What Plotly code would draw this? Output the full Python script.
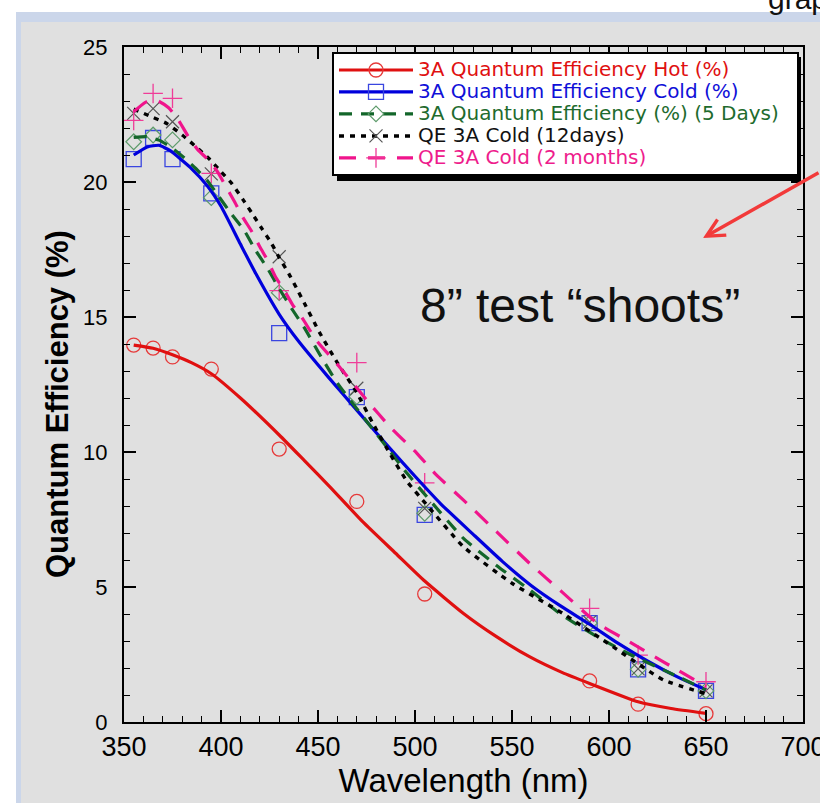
import plotly.graph_objects as go

# ---------------- data ----------------
wavelength = [355, 365, 375, 395, 430, 470, 505, 590, 615, 650]

qe_hot = [13.96, 13.85, 13.52, 13.07, 10.11, 8.17, 4.74, 1.52, 0.66, 0.31]
qe_cold = [20.85, 21.63, 20.85, 19.58, 14.40, 12.03, 7.67, 3.66, 1.95, 1.15]
qe_5days = [21.49, 21.74, 21.56, 19.42, 15.90, 12.05, 7.73, 3.66, 1.95, 1.15]
qe_12days = [22.54, 22.72, 22.23, 20.30, 17.23, 12.36, 7.91, 3.70, 1.97, 1.15]
qe_2months = [22.28, 23.28, 23.10, 20.32, 15.98, 13.31, 8.86, 4.21, 2.48, 1.49]

# fitted curves
fit_hot_wl = [355, 365, 375, 385, 395, 410, 430, 443, 456, 473, 490, 505, 525, 542, 559, 576, 590, 615, 632, 650]
fit_hot = [13.96, 13.84, 13.60, 13.30, 12.90, 12.00, 10.63, 9.68, 8.72, 7.42, 6.25, 5.22, 4.02, 3.16, 2.42, 1.83, 1.43, 0.75, 0.50, 0.32]

fit_cold_wl = [355, 362, 368, 374, 384, 393, 400, 410, 418, 430, 440, 455, 470, 485, 500, 513, 530, 545, 560, 575, 590, 605, 620, 635, 650]
fit_cold = [21.00, 21.30, 21.36, 21.15, 20.55, 19.85, 19.10, 17.70, 16.60, 15.10, 14.10, 12.80, 11.55, 10.30, 9.10, 8.10, 6.95, 5.95, 5.05, 4.30, 3.62, 2.90, 2.25, 1.68, 1.19]

fit_5days_wl = [355, 362, 368, 374, 381, 387, 393, 399, 405, 412, 418, 424, 430, 437, 443, 451, 460, 470, 482, 496, 506, 525, 542, 559, 576, 594, 611, 628, 650]
fit_5days = [21.65, 21.68, 21.55, 21.30, 20.90, 20.50, 20.05, 19.45, 18.85, 18.20, 17.45, 16.80, 16.05, 15.25, 14.60, 13.60, 12.55, 11.60, 10.50, 9.20, 8.35, 6.80, 5.80, 4.90, 3.95, 3.15, 2.50, 1.93, 1.19]

fit_12days_wl = [355, 364, 372, 380, 388, 394, 400, 405.5, 411.5, 416, 421, 426, 430, 435, 439, 443, 451, 460, 470, 478, 487, 496, 506, 525, 550, 576, 602, 628, 650]
fit_12days = [22.70, 22.42, 22.17, 21.74, 21.25, 20.85, 20.38, 19.95, 19.33, 18.84, 18.28, 17.73, 17.20, 16.60, 16.06, 15.51, 14.40, 13.30, 12.20, 11.10, 9.95, 8.90, 8.05, 6.49, 5.14, 4.03, 2.79, 1.56, 1.05]

fit_2months_wl = [355, 361, 367, 373, 378, 383, 388, 393, 398, 402, 407, 411, 416, 420, 424, 428, 433, 437, 442, 449, 461, 475, 487, 501, 511, 525, 542, 559, 576, 594, 611, 628, 650]
fit_2months = [22.60, 22.95, 23.02, 22.75, 22.30, 21.70, 21.20, 20.85, 20.40, 19.90, 19.27, 18.72, 18.15, 17.60, 17.10, 16.50, 15.94, 15.44, 14.95, 14.15, 13.16, 11.93, 10.94, 9.95, 9.15, 8.22, 7.05, 5.88, 4.80, 3.66, 2.95, 2.23, 1.31]

series_names = [
    "3A Quantum Efficiency Hot (%)",
    "3A Quantum Efficiency Cold (%)",
    "3A Quantum Efficiency (%) (5 Days)",
    "QE 3A Cold (12days)",
    "QE 3A Cold (2 months)",
]

x_ticks = [350, 400, 450, 500, 550, 600, 650, 700]
y_ticks = [0, 5, 10, 15, 20, 25]

# ---------------- layout helpers ----------------
W, H = 820, 803
ML, MR, MT, MB = 124, 17, 47, 81
PW = W - ML - MR
PH = H - MT - MB


def px_x(p):
    return (p - ML) / PW


def px_y(p):
    return (H - MB - p) / PH


styles = [
    dict(line=dict(color="#e01010", width=3.2), txt="#e01010",
         marker=dict(symbol="circle-open", size=14, color="#e63a3a", line=dict(width=1.3, color="#e63a3a"))),
    dict(line=dict(color="#0000dc", width=3.2), txt="#1010d8",
         marker=dict(symbol="square-open", size=15, color="#3a46e0", line=dict(width=1.3, color="#3a46e0"))),
    dict(line=dict(color="#13662a", width=3.2, dash="13px,9px"), txt="#1e6b2e",
         marker=dict(symbol="diamond-open", size=12, color="#5c9a6a", line=dict(width=1.2, color="#5c9a6a"))),
    dict(line=dict(color="#000000", width=3.4, dash="5px,6px"), txt="#111111",
         marker=dict(symbol="x-thin-open", size=13, color="#555555", line=dict(width=1.2, color="#555555"))),
    dict(line=dict(color="#f0148c", width=3.2, dash="17px,12px"), txt="#ee1c8c",
         marker=dict(symbol="cross-thin-open", size=14, color="#ef3c98", line=dict(width=1.3, color="#ef3c98"))),
]

fits = [
    (fit_hot_wl, fit_hot),
    (fit_cold_wl, fit_cold),
    (fit_5days_wl, fit_5days),
    (fit_12days_wl, fit_12days),
    (fit_2months_wl, fit_2months),
]
points = [qe_hot, qe_cold, qe_5days, qe_12days, qe_2months]

fig = go.Figure()

# markers
for st, ys in zip(styles, points):
    fig.add_trace(go.Scatter(x=wavelength, y=ys, mode="markers", marker=st["marker"],
                             showlegend=False, hoverinfo="skip"))
# fitted curves
for st, (xs, ys) in zip(styles, fits):
    fig.add_trace(go.Scatter(x=xs, y=ys, mode="lines", line=dict(**st["line"], shape="spline", smoothing=0.5),
                             showlegend=False, hoverinfo="skip"))
# legend entries
pad = ["", "", "\u00a0\u00a0", "", ""]
for st, name, p in zip(styles, series_names, pad):
    fig.add_trace(go.Scatter(
        x=[None], y=[None], mode="lines+markers",
        line=st["line"], marker=st["marker"],
        name='<span style="font-size:20px;color:%s">%s%s</span>' % (st["txt"], name, p),
    ))

axis_common = dict(
    ticks="inside", ticklen=12, tickwidth=1.5, tickcolor="black",
    showline=True, linewidth=2, linecolor="black", mirror="allticks",
    showgrid=False, zeroline=False, ticklabeloverflow="allow", automargin=False,
)

fig.update_xaxes(
    range=[350, 700], tickvals=x_ticks,
    minor=dict(dtick=10, tick0=350, ticks="inside", ticklen=6, tickwidth=1.2, tickcolor="black"),
    tickfont=dict(family="Liberation Sans, Arial", size=27, color="black"),
    title=dict(text="Wavelength (nm)", font=dict(family="Liberation Sans, Arial", size=33, color="black"), standoff=0),
    **axis_common,
)
fig.update_yaxes(
    range=[0, 25], tickvals=y_ticks,
    minor=dict(dtick=1, tick0=0, ticks="inside", ticklen=6, tickwidth=1.2, tickcolor="black"),
    tickfont=dict(family="Liberation Sans, Arial", size=22, color="black"),
    ticklabelstandoff=10,
    **axis_common,
)

shapes = [
    # page decorations
    dict(type="rect", xref="paper", yref="paper", x0=px_x(0), x1=px_x(W), y0=px_y(12), y1=px_y(0),
         fillcolor="white", line=dict(width=0), layer="below"),
    dict(type="rect", xref="paper", yref="paper", x0=px_x(0), x1=px_x(16), y0=px_y(H), y1=px_y(0),
         fillcolor="white", line=dict(width=0), layer="below"),
    dict(type="rect", xref="paper", yref="paper", x0=px_x(16), x1=px_x(W), y0=px_y(22), y1=px_y(12),
         fillcolor="#cbd6ea", line=dict(width=0), layer="below"),
    dict(type="rect", xref="paper", yref="paper", x0=px_x(16), x1=px_x(21), y0=px_y(H), y1=px_y(12),
         fillcolor="#cbd6ea", line=dict(width=0), layer="below"),
    # legend shadow
    dict(type="rect", xref="paper", yref="paper", x0=px_x(337), x1=px_x(801), y0=px_y(181), y1=px_y(57),
         fillcolor="black", line=dict(width=0), layer="above"),
]

annotations = [
    dict(text="<b>Quantum Efficiency (%)</b>", xref="paper", yref="paper", x=px_x(57), y=px_y(404),
         xanchor="center", yanchor="middle",
         textangle=-90, showarrow=False, font=dict(family="Liberation Sans, Arial", size=31, color="black")),
    dict(text="8\u201d test \u201cshoots\u201d", xref="paper", yref="paper", x=px_x(580), y=px_y(305),
         xanchor="center", yanchor="middle",
         showarrow=False, font=dict(family="Liberation Sans, Arial", size=48, color="#111111")),
    dict(text="graph", xref="paper", yref="paper", x=px_x(766), y=px_y(-2), xanchor="left", yanchor="middle",
         showarrow=False, font=dict(family="Liberation Sans, Arial", size=30, color="#111111")),
    dict(text="", xref="paper", yref="paper", x=px_x(703), y=px_y(238), ax=119, ay=-66,
         showarrow=True, arrowhead=5, arrowsize=1, arrowwidth=3.5, arrowcolor="#f23a3a", standoff=0),
]

fig.update_layout(
    width=W, height=H,
    margin=dict(l=ML, r=MR, t=MT, b=MB, pad=0, autoexpand=False),
    paper_bgcolor="#e0e0e0", plot_bgcolor="#e0e0e0",
    font=dict(family="Liberation Sans, Arial", color="black"),
    shapes=shapes, annotations=annotations,
    legend=dict(x=px_x(332), y=px_y(52), xanchor="left", yanchor="top",
                bgcolor="white", bordercolor="black", borderwidth=2,
                font=dict(family="DejaVu Sans", size=14.6, color="black"),
                itemwidth=74, tracegroupgap=0),
    showlegend=True,
)

fig.write_html("out.html")
